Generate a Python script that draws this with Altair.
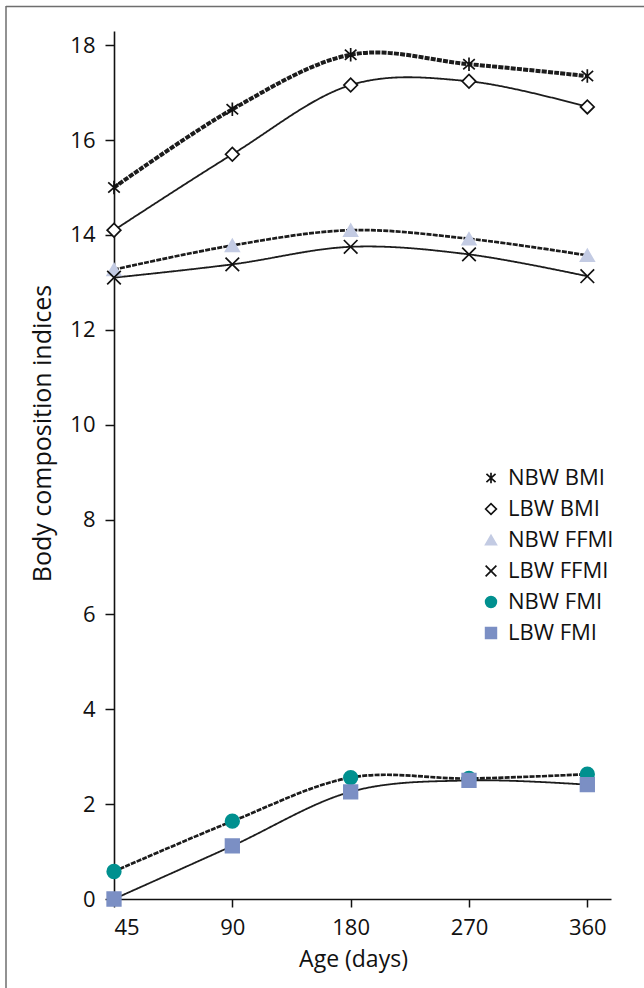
import altair as alt
import pandas as pd

# Age at measurement (days) and mean body composition indices per group
ages = [45, 90, 180, 270, 360]
series_names = ["NBW BMI", "LBW BMI", "NBW FFMI", "LBW FFMI", "NBW FMI", "LBW FMI"]
nbw_bmi = [15.0, 16.65, 17.8, 17.6, 17.35]
lbw_bmi = [14.1, 15.7, 17.16, 17.24, 16.7]
nbw_ffmi = [13.27, 13.78, 14.1, 13.92, 13.57]
lbw_ffmi = [13.1, 13.38, 13.75, 13.59, 13.13]
nbw_fmi = [0.58, 1.64, 2.56, 2.54, 2.63]
lbw_fmi = [0.0, 1.12, 2.26, 2.5, 2.41]
y_ticks = [0, 2, 4, 6, 8, 10, 12, 14, 16, 18]

values = [nbw_bmi, lbw_bmi, nbw_ffmi, lbw_ffmi, nbw_fmi, lbw_fmi]
rows = []
for name, vals in zip(series_names, values):
    for i, (age, v) in enumerate(zip(ages, vals)):
        rows.append({"series": name, "idx": i, "age": age, "value": v})
df = pd.DataFrame(rows)

FONT = "Open Sans"
W, H = 497, 868
PAD_L, PAD_T = 114, 31

asterisk = "M0,-1L0,1M-0.85,-0.75L0.85,0.75M-0.85,0.75L0.85,-0.75"
xcross = "M-1,-1L1,1M-1,1L1,-1"

shape_range = [asterisk, "diamond", "triangle-up", xcross, "circle", "square"]
stroke_range = ["#111111", "#111111", "#c3cbe3", "#111111", "#00908f", "#7b8fc4"]
fill_range = ["transparent", "#ffffff", "#c3cbe3", "transparent", "#00908f", "#7b8fc4"]

x_labels = "[" + ",".join("'%d'" % a for a in ages) + "]"

x_enc = alt.X(
    "idx:Q",
    scale=alt.Scale(domain=[0, 4.2], nice=False, zero=False),
    axis=alt.Axis(
        values=list(range(len(ages))),
        labelExpr=x_labels + "[datum.value]",
        title="Age (days)",
        titleX=239,
        titleY=60,
        titleFontSize=23,
        titleAnchor="middle",
        titleAlign="center",
        titleBaseline="middle",
        tickSize=8,
        labelPadding=10,
        grid=False,
    ),
)
y_enc = alt.Y(
    "value:Q",
    scale=alt.Scale(domain=[0, 18.3], nice=False),
    axis=alt.Axis(
        values=y_ticks,
        title="Body composition indices",
        titleX=-72,
        titleY=402,
        titleFontSize=25,
        titleAngle=-90,
        titleAlign="center",
        titleBaseline="middle",
        tickSize=9,
        labelPadding=10,
        grid=False,
    ),
)


def curve(names, dash, width):
    return (
        alt.Chart(df)
        .transform_filter(alt.FieldOneOfPredicate(field="series", oneOf=names))
        .mark_line(interpolate="cardinal", color="#1c1c1c", strokeDash=dash, strokeWidth=width)
        .encode(x=x_enc, y=y_enc, detail="series:N")
    )


line_nbw_bmi = curve(["NBW BMI"], [5, 1.2], 4.0)
line_nbw_rest = curve(["NBW FFMI", "NBW FMI"], [5, 1.2], 2.7)
line_lbw = curve(["LBW BMI", "LBW FFMI", "LBW FMI"], [1, 0], 1.8)

points = alt.Chart(df).mark_point(filled=False, opacity=1, strokeWidth=1.7, size=185).encode(
    x=x_enc,
    y=y_enc,
    shape=alt.Shape("series:N", scale=alt.Scale(domain=series_names, range=shape_range), title=None),
    stroke=alt.Stroke("series:N", scale=alt.Scale(domain=series_names, range=stroke_range), title=None),
    fill=alt.Fill("series:N", scale=alt.Scale(domain=series_names, range=fill_range), title=None),
)

# Frame lines along the top and left edges of the figure
one = alt.Data(values=[{"k": 1}])
frame_left = alt.Chart(one).mark_rule(color="#6e6e6e", strokeWidth=1.5).encode(
    x=alt.value(6 - PAD_L), y=alt.value(6 - PAD_T), y2=alt.value(988 - PAD_T)
)
frame_top = alt.Chart(one).mark_rule(color="#6e6e6e", strokeWidth=1.5).encode(
    x=alt.value(6 - PAD_L), x2=alt.value(644 - PAD_L), y=alt.value(6.5 - PAD_T)
)

chart = (
    alt.layer(frame_left, frame_top, line_nbw_bmi, line_nbw_rest, line_lbw, points)
    .properties(
        width=W,
        height=H,
        autosize=alt.AutoSizeParams(type="none"),
        padding={"left": PAD_L, "top": PAD_T, "right": 644 - PAD_L - W, "bottom": 988 - PAD_T - H},
        background="white",
    )
    .configure_view(strokeWidth=0)
    .configure_axis(
        labelFont=FONT,
        titleFont=FONT,
        labelFontSize=22,
        labelColor="#111111",
        titleColor="#111111",
        titleFontWeight="normal",
        domainColor="#111111",
        domainWidth=1.6,
        tickColor="#111111",
        tickWidth=1.5,
    )
    .configure_legend(
        orient="none",
        legendX=366,
        legendY=436,
        padding=0,
        labelFont=FONT,
        labelFontSize=22,
        labelColor="#111111",
        symbolSize=115,
        symbolStrokeWidth=1.7,
        rowPadding=9,
        labelOffset=6,
    )
)

chart.save("out.html", embed_options={"renderer": "svg", "actions": False})
